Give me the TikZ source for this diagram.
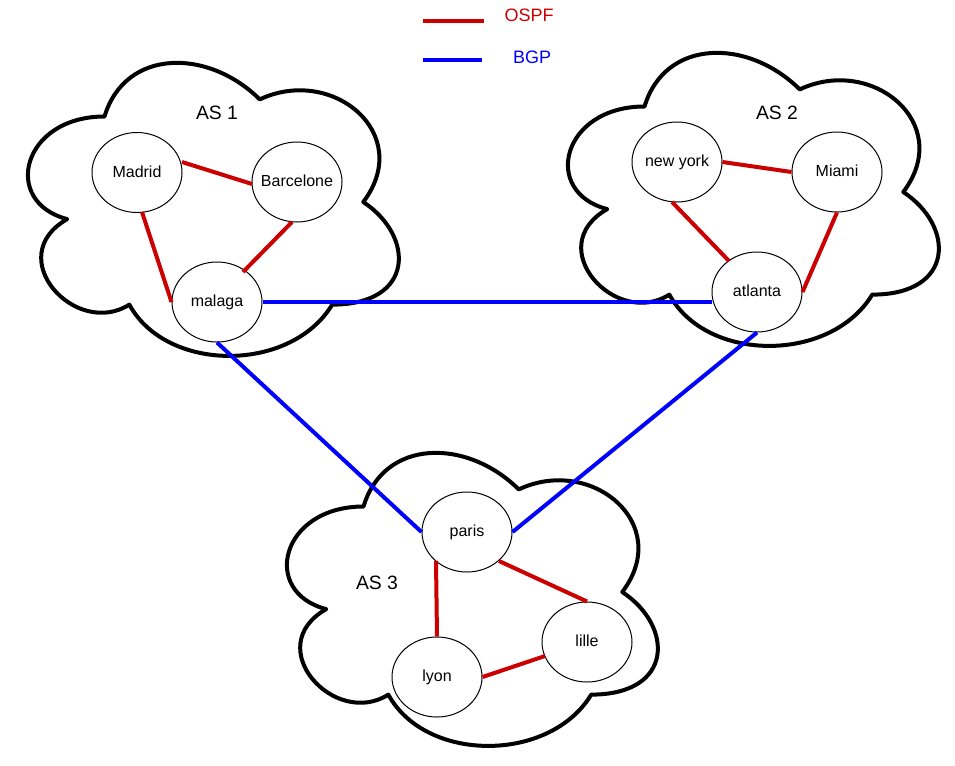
\documentclass[tikz,border=0pt]{standalone}
\usepackage{fontspec}
\setmainfont{Liberation Sans}
\usetikzlibrary{shapes.geometric,calc}
\definecolor{ospfred}{HTML}{CC0000}
\definecolor{bgpblue}{HTML}{0000FF}
\newcommand\drawcloud[2]{%
  \begin{scope}[shift={(#1,#2)}, xscale=4.14, yscale=3.42]
    \path[cloudline] (25,25) .. controls (5,25) and (0,50) .. (16,55)
      .. controls (0,66) and (18,90) .. (31,80)
      .. controls (40,100) and (70,100) .. (80,80)
      .. controls (100,80) and (100,60) .. (87.5,50)
      .. controls (100,30) and (80,10) .. (62.5,20)
      .. controls (50,5) and (30,5) .. (25,25) -- cycle;
  \end{scope}}
\begin{document}
\begin{tikzpicture}[x=0.75pt,y=-0.75pt,
  cloudline/.style={line width=3pt, draw=black, fill=white, line join=round},
  router/.style={ellipse, draw=black, line width=0.75pt, fill=white,
    minimum width=67.5pt, minimum height=60pt, inner sep=0pt,
    font=\fontsize{12}{14}\selectfont, text height=8.6pt, text depth=1.6pt},
  ospf/.style={draw=ospfred, line width=3pt},
  bgp/.style={draw=bgpblue, line width=3pt},
  aslabel/.style={font=\fontsize{14.5}{17}\selectfont, anchor=base, inner sep=0pt},
  legendtext/.style={font=\fontsize{13.5}{16}\selectfont, anchor=base, inner sep=0pt}]
\useasboundingbox[fill=white] (0,0) rectangle (955,765);

% clouds
\drawcloud{1}{31}
\drawcloud{541}{21}
\drawcloud{260}{421}

% AS labels
\node[aslabel] (as1) at (217,119) {AS 1};
\node[aslabel] (as2) at (777,119) {AS 2};
\node[aslabel] (as3) at (377,589) {AS 3};

% routers
\node[router] (madrid) at (137,172.5) {\makebox[0pt]{Madrid}};
\node[router] (barcelone) at (297,182) {\makebox[0pt]{Barcelone}};
\node[router] (malaga) at (217,302) {\makebox[0pt]{malaga}};
\node[router] (newyork) at (677,162) {\makebox[0pt]{new york}};
\node[router] (miami) at (837,172) {\makebox[0pt]{Miami}};
\node[router] (atlanta) at (757,292) {\makebox[0pt]{atlanta}};
\node[router] (paris) at (467,532) {\makebox[0pt]{paris}};
\node[router] (lyon) at (437,677) {\makebox[0pt]{lyon}};
\node[router] (lille) at (587,642) {\makebox[0pt]{lille}};

% OSPF links
\draw[ospf] ([shift={(45,-10.5)}]madrid.center) -- ([shift={(-45,2)}]barcelone.center);
\draw[ospf] ([shift={(5,39.5)}]madrid.center) -- (malaga.west);
\draw[ospf] ([shift={(-5,40)}]barcelone.center) -- ([shift={(26,-30)}]malaga.center);
\draw[ospf] (newyork.east) -- (miami.west);
\draw[ospf] ([shift={(-5,40)}]newyork.center) -- ([shift={(-28,-31)}]atlanta.center);
\draw[ospf] (miami.south) -- (atlanta.east);
\draw[ospf] ([shift={(-31,29)}]paris.center) -- (lyon.north);
\draw[ospf] ([shift={(32,29)}]paris.center) -- (lille.north);
\draw[ospf] (lyon.east) -- ([shift={(-42,14)}]lille.center);

% BGP links
\draw[bgp] (malaga.east) -- ([shift={(-45,10)}]atlanta.center);
\draw[bgp] (malaga.south) -- (paris.west);
\draw[bgp] (atlanta.south) -- (paris.east);

% legend
\coordinate (lr1) at (423,21);
\coordinate (lr2) at (484,21);
\coordinate (lb1) at (423,60);
\coordinate (lb2) at (482,60);
\draw[ospf] (lr1) -- (lr2);
\draw[bgp] (lb1) -- (lb2);
\node[legendtext, text=ospfred] (ospflabel) at (529,21.5) {OSPF};
\node[legendtext, text=bgpblue] (bgplabel) at (532,63) {BGP};
\end{tikzpicture}
\end{document}
